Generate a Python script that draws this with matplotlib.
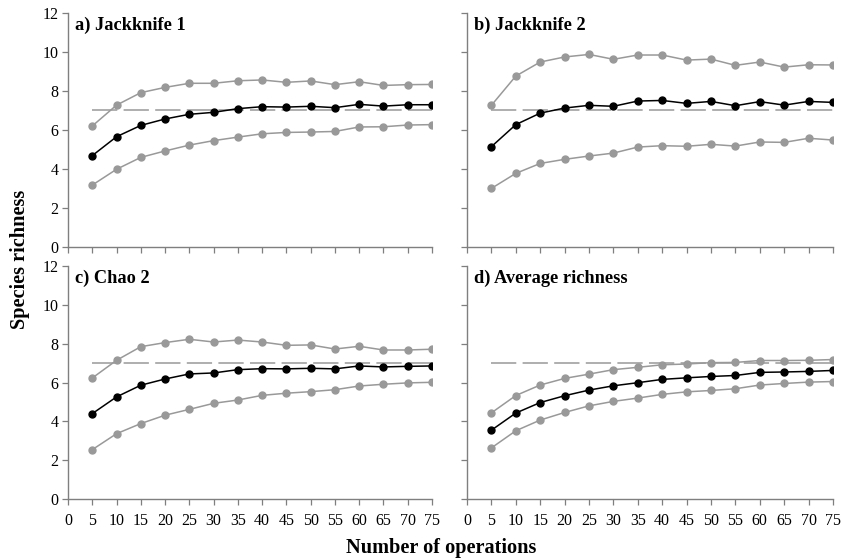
import matplotlib
matplotlib.use('Agg')
import matplotlib.pyplot as plt

plt.rcParams['font.family'] = ['Liberation Serif', 'DejaVu Serif']

operations = [5, 10, 15, 20, 25, 30, 35, 40, 45, 50, 55, 60, 65, 70, 75]
true_richness = 7

# a) Jackknife 1
jack1_upper = [6.19, 7.26, 7.90, 8.17, 8.38, 8.38, 8.51, 8.55, 8.43, 8.50, 8.31, 8.46, 8.27, 8.31, 8.32]
jack1_mean = [4.67, 5.64, 6.22, 6.55, 6.79, 6.89, 7.08, 7.18, 7.16, 7.20, 7.13, 7.30, 7.21, 7.28, 7.28]
jack1_lower = [3.16, 3.97, 4.58, 4.91, 5.21, 5.44, 5.62, 5.79, 5.86, 5.88, 5.91, 6.14, 6.15, 6.24, 6.26]

# b) Jackknife 2
jack2_upper = [7.25, 8.75, 9.47, 9.73, 9.86, 9.61, 9.83, 9.83, 9.57, 9.62, 9.30, 9.47, 9.21, 9.33, 9.32]
jack2_mean = [5.13, 6.26, 6.85, 7.11, 7.25, 7.20, 7.47, 7.50, 7.35, 7.45, 7.23, 7.44, 7.26, 7.45, 7.40]
jack2_lower = [2.99, 3.76, 4.27, 4.48, 4.65, 4.80, 5.11, 5.18, 5.15, 5.25, 5.16, 5.37, 5.35, 5.56, 5.47]

# c) Chao 2
chao2_upper = [6.23, 7.14, 7.84, 8.05, 8.22, 8.08, 8.18, 8.08, 7.91, 7.93, 7.72, 7.86, 7.67, 7.67, 7.71]
chao2_mean = [4.40, 5.26, 5.86, 6.18, 6.44, 6.49, 6.66, 6.71, 6.70, 6.73, 6.70, 6.85, 6.80, 6.83, 6.85]
chao2_lower = [2.55, 3.37, 3.89, 4.32, 4.62, 4.93, 5.10, 5.34, 5.45, 5.53, 5.63, 5.82, 5.91, 5.98, 6.01]

# d) Average richness
avg_upper = [4.44, 5.33, 5.87, 6.21, 6.43, 6.66, 6.78, 6.91, 6.95, 7.02, 7.03, 7.13, 7.13, 7.14, 7.18]
avg_mean = [3.55, 4.43, 4.97, 5.32, 5.61, 5.83, 5.99, 6.16, 6.24, 6.31, 6.36, 6.52, 6.54, 6.57, 6.62]
avg_lower = [2.64, 3.52, 4.07, 4.46, 4.80, 5.03, 5.20, 5.39, 5.52, 5.59, 5.68, 5.87, 5.95, 6.02, 6.05]

panels = [
    ('a) Jackknife 1', jack1_upper, jack1_mean, jack1_lower),
    ('b) Jackknife 2', jack2_upper, jack2_mean, jack2_lower),
    ('c) Chao 2', chao2_upper, chao2_mean, chao2_lower),
    ('d) Average richness', avg_upper, avg_mean, avg_lower),
]

fig = plt.figure(figsize=(8.42, 5.6), dpi=100)
W, H = 842, 560
boxes = [(68, 12.7, 432, 246.7), (467, 12.7, 833, 246.7),
         (68, 265.7, 432, 499.3), (467, 265.7, 833, 499.3)]

grey = '#999999'
spine_col = '#7f7f7f'

for i, (title, up, mid, low) in enumerate(panels):
    x0, y0, x1, y1 = boxes[i]
    ax = fig.add_axes([x0 / W, 1 - y1 / H, (x1 - x0) / W, (y1 - y0) / H])
    ax.plot([operations[0], operations[-1]], [true_richness, true_richness],
            color='#a8a8a8', lw=1.3, dashes=(14, 3.5), zorder=1)
    ax.plot(operations, up, color=grey, lw=1.1, marker='o', ms=5, zorder=2)
    ax.plot(operations, low, color=grey, lw=1.1, marker='o', ms=5, zorder=2)
    ax.plot(operations, mid, color='black', lw=1.1, marker='o', ms=5, zorder=3)

    ax.set_xlim(0, 75)
    ax.set_ylim(0, 12)
    ax.set_xticks(range(0, 76, 5))
    ax.set_yticks(range(0, 13, 2))
    for s in ['top', 'right']:
        ax.spines[s].set_visible(False)
    for s in ['left', 'bottom']:
        ax.spines[s].set_color(spine_col)
        ax.spines[s].set_linewidth(1.0)
    ax.tick_params(direction='out', length=4, width=0.9, color=spine_col,
                   labelsize=11.5, pad=3)
    if i < 2:
        ax.tick_params(axis='x', labelbottom=False)
    else:
        ax.tick_params(axis='x', pad=6)
    if i % 2 == 1:
        ax.tick_params(axis='y', labelleft=False)
    ax.text(0.02, 0.925, title, transform=ax.transAxes, fontsize=13.2,
            fontweight='bold', va='baseline', ha='left')

fig.text(441 / W, 1 - 553 / H, 'Number of operations', ha='center',
         va='baseline', fontsize=14.6, fontweight='bold')
fig.text(20 / W, 1 - 259 / H, 'Species richness', ha='center', va='center',
         rotation=90, fontsize=14.6, fontweight='bold')

plt.savefig('out.png', dpi=100)
